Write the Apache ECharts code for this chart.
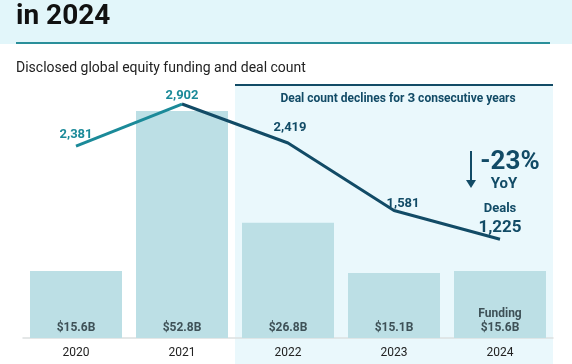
<!DOCTYPE html>
<html><head><meta charset="utf-8">
<script src="https://cdn.jsdelivr.net/npm/echarts@6/dist/echarts.min.js"></script>
<style>html,body{margin:0;padding:0;background:#fff}#c{width:572px;height:364px}</style>
</head><body><div id="c"></div>
<script>
const years = ['2020', '2021', '2022', '2023', '2024'];
const funding = [15.6, 52.8, 26.8, 15.1, 15.6];
const fundingLabels = ['$15.6B', '$52.8B', '$26.8B', '$15.1B', '$15.6B'];
const deals = [2381, 2902, 2419, 1581, 1225];
const dealLabels = ['2,381', '2,902', '2,419', '1,581', '1,225'];

const TEAL = '#1b8a99', DARK = '#124b66', BAR = '#bcdfe5';
const F = 'Roboto, "Noto Sans", sans-serif';

const chart = echarts.init(document.getElementById('c'), null, {renderer: 'canvas'});

const tealDeals = deals.map((v, i) => i <= 1 ? v : null);
const darkDeals = deals.map((v, i) => i >= 1 ? v : null);
const labelOffsets = [[0, 4], [0, 7], [2, 0], [9, 8], [0, 7]];

const option = {
  animation: false,
  textStyle: {fontFamily: F},
  grid: {left: 23, right: 19, top: 80, bottom: 26},
  xAxis: {
    type: 'category', data: years,
    axisLine: {lineStyle: {color: '#dcdfe0', width: 1.5}},
    axisTick: {show: false},
    axisLabel: {color: '#222', fontSize: 12, margin: 9, fontFamily: F}
  },
  yAxis: [
    {type: 'value', min: 0, max: 60, show: false},
    {type: 'value', min: 0, max: 3200, show: false}
  ],
  series: [
    {
      type: 'bar', data: funding, barWidth: 92, yAxisIndex: 0,
      itemStyle: {color: BAR}, z: 2,
      label: {
        show: true, position: 'insideBottom', distance: 3,
        color: '#3e5157', fontWeight: 'bold', fontSize: 12, fontFamily: F, lineHeight: 14,
        formatter: p => p.dataIndex === 4 ? 'Funding\n' + fundingLabels[p.dataIndex] : fundingLabels[p.dataIndex]
      }
    },
    {
      type: 'line', data: tealDeals.map((v, i) => i === 1 ? {value: v, label: {show: false}} : v),
      yAxisIndex: 1, symbol: 'circle', symbolSize: 1, showSymbol: true, z: 5,
      itemStyle: {color: 'rgba(0,0,0,0)'},
      lineStyle: {color: TEAL, width: 3},
      label: {
        show: true, position: 'top', distance: 8, color: TEAL, fontWeight: 'bold', fontSize: 13, fontFamily: F,
        formatter: p => dealLabels[p.dataIndex]
      },
      labelLayout: p => ({dx: labelOffsets[p.dataIndex][0], dy: labelOffsets[p.dataIndex][1]})
    },
    {
      type: 'line', data: darkDeals,
      yAxisIndex: 1, symbol: 'circle', symbolSize: 1, showSymbol: true, z: 4,
      itemStyle: {color: 'rgba(0,0,0,0)'},
      lineStyle: {color: DARK, width: 3},
      label: {
        show: true, position: 'top', distance: 8, fontWeight: 'bold', fontSize: 13, fontFamily: F,
        color: TEAL,
        formatter: p => p.dataIndex === 4 ? '{a|Deals}\n{b|' + dealLabels[4] + '}' : (p.dataIndex === 1 ? '{t|' + dealLabels[1] + '}' : '{d|' + dealLabels[p.dataIndex] + '}'),
        rich: {
          t: {fontSize: 13, fontWeight: 'bold', color: TEAL, fontFamily: F},
          d: {fontSize: 13, fontWeight: 'bold', color: DARK, fontFamily: F},
          a: {fontSize: 13, fontWeight: 'bold', color: DARK, fontFamily: F, lineHeight: 18, align: 'center'},
          b: {fontSize: 17, fontWeight: 'bold', color: DARK, fontFamily: F, lineHeight: 20, align: 'center'}
        }
      },
      labelLayout: p => ({dx: labelOffsets[p.dataIndex][0], dy: labelOffsets[p.dataIndex][1]})
    }
  ]
};
chart.setOption(option);

const c0 = chart.convertToPixel({xAxisIndex: 0}, '2021');
const c1 = chart.convertToPixel({xAxisIndex: 0}, '2022');
const c4 = chart.convertToPixel({xAxisIndex: 0}, '2024');
const band = c1 - c0;
const shadeL = (c0 + c1) / 2, shadeR = c4 + band / 2;

chart.setOption({
  graphic: {elements: [
    {type: 'rect', z: -10, silent: true, shape: {x: 0, y: 0, width: 572, height: 44}, style: {fill: '#e2f6fa'}},
    {type: 'line', z: -9, shape: {x1: 16, y1: 43, x2: 550, y2: 43}, style: {stroke: '#2a8f9a', lineWidth: 2}},
    {type: 'text', z: 10, x: 16, y: 17, style: {text: 'in 2024', font: 'bold 28px ' + F, fill: '#111', verticalAlign: 'middle'}},
    {type: 'text', z: 10, x: 16, y: 68, style: {text: 'Disclosed global equity funding and deal count', font: '14px ' + F, fill: '#222', verticalAlign: 'middle'}},
    {type: 'rect', z: -10, silent: true, shape: {x: shadeL, y: 85, width: shadeR - shadeL, height: 300}, style: {fill: '#eaf8fc'}},
    {type: 'line', z: -9, shape: {x1: shadeL, y1: 85, x2: shadeR, y2: 85}, style: {stroke: DARK, lineWidth: 2}},
    {type: 'text', z: 10, x: 398, y: 99, style: {
      text: '{n|Deal count declines for }{h|3}{n| consecutive years}', align: 'center', verticalAlign: 'middle',
      rich: {n: {font: 'bold 12px ' + F, fill: DARK}, h: {font: 'bold 13.5px ' + F, fill: DARK}}
    }},
    {type: 'text', z: 10, x: 510, y: 162, style: {text: '-23%', font: 'bold 26px ' + F, fill: DARK, align: 'center', verticalAlign: 'middle'}},
    {type: 'text', z: 10, x: 504, y: 184, style: {text: 'YoY', font: 'bold 15px ' + F, fill: DARK, align: 'center', verticalAlign: 'middle'}},
    {type: 'line', z: 10, shape: {x1: 471, y1: 151, x2: 471, y2: 182}, style: {stroke: DARK, lineWidth: 2}},
    {type: 'polygon', z: 10, shape: {points: [[466, 180], [476, 180], [471, 188]]}, style: {fill: DARK}}
  ]}
});
</script></body></html>
